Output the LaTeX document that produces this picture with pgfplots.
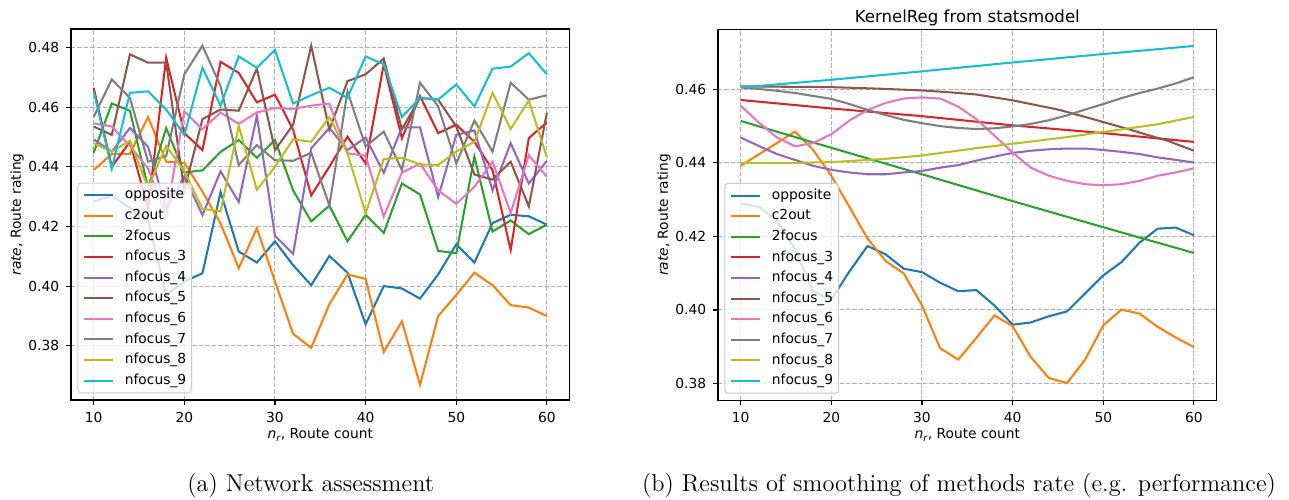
\documentclass[border=0pt]{standalone}
\usepackage{fontspec}
\setsansfont{DejaVu Sans}
\usepackage{pgfplots}
\usepackage{pgfplotstable}
\pgfplotsset{compat=1.18}

\definecolor{c0}{HTML}{1F77B4}
\definecolor{c1}{HTML}{FF7F0E}
\definecolor{c2}{HTML}{2CA02C}
\definecolor{c3}{HTML}{D62728}
\definecolor{c4}{HTML}{9467BD}
\definecolor{c5}{HTML}{8C564B}
\definecolor{c6}{HTML}{E377C2}
\definecolor{c7}{HTML}{7F7F7F}
\definecolor{c8}{HTML}{BCBD22}
\definecolor{c9}{HTML}{17BECF}

\newcommand\tickfont{\sffamily\fontsize{6.9}{8}\selectfont}
\newcommand\titlefont{\sffamily\fontsize{8.3}{10}\selectfont}
\newcommand\capfont{\rmfamily\fontsize{12.2}{14}\selectfont}

% raw rates, one row per route count
\pgfplotstableread{
x  opp    c2     f2     f3     f4     f5     f6     f7     f8     f9
10 0.4284 0.4389 0.4447 0.4665 0.4492 0.4535 0.4546 0.4567 0.4479 0.4653
12 0.4303 0.4443 0.4612 0.4400 0.4451 0.4507 0.4535 0.4693 0.4451 0.4394
14 0.4262 0.4443 0.4588 0.4484 0.4530 0.4777 0.4470 0.4631 0.4487 0.4648
16 0.4220 0.4567 0.4330 0.4260 0.4467 0.4749 0.4394 0.4417 0.4330 0.4653
18 0.3970 0.4417 0.4530 0.4766 0.4260 0.4749 0.4237 0.4436 0.4470 0.4592
20 0.4015 0.4413 0.4381 0.4513 0.4368 0.4320 0.4586 0.4710 0.4385 0.4507
22 0.4043 0.4317 0.4388 0.4456 0.4238 0.4560 0.4526 0.4806 0.4259 0.4732
24 0.4315 0.4210 0.4450 0.4752 0.4385 0.4592 0.4582 0.4670 0.4251 0.4605
26 0.4116 0.4060 0.4490 0.4715 0.4282 0.4588 0.4544 0.4406 0.4537 0.4770
28 0.4079 0.4194 0.4430 0.4616 0.4571 0.4729 0.4582 0.4473 0.4323 0.4732
30 0.4150 0.4016 0.4490 0.4642 0.4169 0.4456 0.4597 0.4422 0.4400 0.4792
32 0.4070 0.3840 0.4321 0.4524 0.4108 0.4541 0.4594 0.4420 0.4492 0.4612
34 0.4003 0.3793 0.4217 0.4304 0.4462 0.4806 0.4605 0.4447 0.4484 0.4640
36 0.4101 0.3939 0.4270 0.4400 0.4530 0.4524 0.4612 0.4270 0.4567 0.4665
38 0.4045 0.4039 0.4150 0.4501 0.4456 0.4687 0.4445 0.4653 0.4445 0.4631
40 0.3872 0.4024 0.4239 0.4411 0.4498 0.4710 0.4437 0.4468 0.4244 0.4770
42 0.4000 0.3779 0.4178 0.4744 0.4380 0.4763 0.4233 0.4518 0.4426 0.4744
44 0.3992 0.3882 0.4344 0.4496 0.4532 0.4526 0.4380 0.4389 0.4430 0.4567
46 0.3958 0.3669 0.4307 0.4637 0.4532 0.4631 0.4411 0.4682 0.4408 0.4631
48 0.4039 0.3899 0.4118 0.4513 0.4298 0.4625 0.4321 0.4603 0.4406 0.4625
50 0.4140 0.3970 0.4110 0.4541 0.4507 0.4535 0.4276 0.4411 0.4451 0.4676
52 0.4079 0.4045 0.4434 0.4484 0.4522 0.4374 0.4333 0.4555 0.4484 0.4603
54 0.4211 0.4003 0.4183 0.4389 0.4321 0.4357 0.4417 0.4451 0.4648 0.4729
56 0.4239 0.3936 0.4220 0.4121 0.4479 0.4417 0.4245 0.4682 0.4527 0.4736
58 0.4234 0.3928 0.4174 0.4496 0.4344 0.4267 0.4439 0.4625 0.4622 0.4781
60 0.4206 0.3899 0.4206 0.4549 0.4420 0.4582 0.4366 0.4640 0.4431 0.4710
}\rawdata

% smoothed (KernelReg) curves that need every point
\pgfplotstableread{
x  opp    c2     f4     f6     f7
10 0.4290 0.4392 0.4469 0.4555 0.4605
12 0.4281 0.4423 0.4446 0.4510 0.4601
14 0.4242 0.4454 0.4424 0.4469 0.4596
16 0.4165 0.4485 0.4408 0.4445 0.4590
18 0.4051 0.4435 0.4392 0.4454 0.4582
20 0.4028 0.4365 0.4381 0.4478 0.4574
22 0.4105 0.4280 0.4374 0.4515 0.4560
24 0.4174 0.4194 0.4369 0.4544 0.4544
26 0.4151 0.4133 0.4369 0.4563 0.4530
28 0.4112 0.4099 0.4374 0.4575 0.4517
30 0.4103 0.4012 0.4378 0.4578 0.4508
32 0.4074 0.3896 0.4387 0.4575 0.4500
34 0.4051 0.3865 0.4394 0.4553 0.4495
36 0.4054 0.3924 0.4406 0.4519 0.4492
38 0.4012 0.3985 0.4417 0.4474 0.4494
40 0.3960 0.3956 0.4427 0.4428 0.4499
42 0.3966 0.3872 0.4433 0.4387 0.4506
44 0.3983 0.3815 0.4437 0.4365 0.4516
46 0.3996 0.3801 0.4439 0.4351 0.4529
48 0.4045 0.3865 0.4439 0.4342 0.4545
50 0.4094 0.3958 0.4435 0.4339 0.4560
52 0.4130 0.4001 0.4430 0.4342 0.4576
54 0.4183 0.3990 0.4424 0.4351 0.4590
56 0.4221 0.3954 0.4415 0.4365 0.4602
58 0.4224 0.3925 0.4408 0.4374 0.4616
60 0.4203 0.3899 0.4401 0.4385 0.4633
}\smoothdata

\pgfplotsset{
  mpl/.style={
    scale only axis, width=249.3pt, height=185.5pt,
    xmin=7.5, xmax=62.5,
    xtick={10,20,...,60},
    grid=major,
    grid style={color=black!31, line width=0.5pt, dash pattern=on 2.2pt off 1pt},
    axis line style={line width=0.55pt},
    tick style={black, line width=0.55pt},
    major tick length=2.4pt, tick align=outside,
    xtick pos=lower, ytick pos=left,
    tick label style={font=\tickfont},
    label style={font=\tickfont},
    /pgf/number format/assume math mode=true,
    yticklabel style={/pgf/number format/.cd, fixed, fixed zerofill, precision=2},
    xlabel={\textit{n}\raisebox{-0.35ex}{\fontsize{4.8}{5}\selectfont\textit{r}}, Route count},
    ylabel={\textit{rate}, Route rating},
    xlabel style={at={(axis description cs:0.5,-0.094)}, anchor=center, inner sep=0pt},
    ylabel style={at={(axis description cs:-0.108,0.5)}, anchor=center, inner sep=0pt},
    every axis plot/.append style={line width=1.03pt, mark=none},
    legend cell align=left,
    legend style={at={(0.0127,0.018)}, anchor=south west,
      fill=white, fill opacity=0.8, text opacity=1, draw opacity=1,
      draw=black!20, rounded corners=1.5pt, line width=0.5pt,
      font=\tickfont, inner xsep=2.7pt, inner ysep=2.8pt, row sep=3.7pt,
      nodes={inner sep=0pt, text height=5.1pt, text depth=1.5pt},
      /tikz/every odd column/.append style={column sep=5.3pt}},
    legend image code/.code={\draw[#1] (0pt,0pt) -- (14.5pt,0pt);},
  }
}

\begin{document}
\begin{tikzpicture}
\path[use as bounding box] (0,0) rectangle (644.5pt,249.5pt);

\begin{axis}[mpl, at={(35.5pt,49.5pt)}, anchor=south west,
    ymin=0.3618, ymax=0.4862, ytick={0.38,0.40,...,0.48}]
\addplot[c0] table[x=x, y=opp] {\rawdata};
\addplot[c1] table[x=x, y=c2] {\rawdata};
\addplot[c2] table[x=x, y=f2] {\rawdata};
\addplot[c3] table[x=x, y=f3] {\rawdata};
\addplot[c4] table[x=x, y=f4] {\rawdata};
\addplot[c5] table[x=x, y=f5] {\rawdata};
\addplot[c6] table[x=x, y=f6] {\rawdata};
\addplot[c7] table[x=x, y=f7] {\rawdata};
\addplot[c8] table[x=x, y=f8] {\rawdata};
\addplot[c9] table[x=x, y=f9] {\rawdata};
\legend{opposite, c2out, 2focus, nfocus\_3, nfocus\_4, nfocus\_5, nfocus\_6, nfocus\_7, nfocus\_8, nfocus\_9}
\end{axis}

\begin{axis}[mpl, at={(359pt,49.3pt)}, anchor=south west,
    ymin=0.3754, ymax=0.4763, ytick={0.38,0.40,...,0.46},
    title={KernelReg from statsmodel},
    title style={font=\titlefont, at={(0.5,1)}, anchor=south, inner sep=0pt, yshift=-4.3pt}]
\addplot[c0] table[x=x, y=opp] {\smoothdata};
\addplot[c1] table[x=x, y=c2] {\smoothdata};
\addplot[c2] coordinates {(10,0.4514) (20,0.4441) (30,0.4369) (40,0.4296) (50,0.4225) (60,0.4155)};
\addplot[c3] coordinates {(10,0.4571) (20,0.4548) (30,0.4527) (40,0.4502) (50,0.4481) (60,0.4457)};
\addplot[c4] table[x=x, y=f4] {\smoothdata};
\addplot[c5] coordinates {(10,0.4608) (20,0.4606) (25,0.4602) (30,0.4597) (33,0.4592) (36,0.4586) (40,0.4570) (43,0.4555) (45,0.4545) (48,0.4525) (50,0.4511) (53,0.4490) (55,0.4475) (57,0.4461) (60,0.4433)};
\addplot[c6] table[x=x, y=f6] {\smoothdata};
\addplot[c7] table[x=x, y=f7] {\smoothdata};
\addplot[c8] coordinates {(10,0.4400) (16,0.4400) (20,0.4402) (26,0.4411) (30,0.4420) (36,0.4440) (40,0.4452) (46,0.4470) (50,0.4484) (56,0.4505) (60,0.4525)};
\addplot[c9] coordinates {(10,0.4605) (20,0.4626) (30,0.4649) (40,0.4673) (50,0.4696) (60,0.4718)};
\legend{opposite, c2out, 2focus, nfocus\_3, nfocus\_4, nfocus\_5, nfocus\_6, nfocus\_7, nfocus\_8, nfocus\_9}
\end{axis}

\node[font=\capfont] at (155.4pt,7pt) {(a) Network assessment};
\node[font=\capfont] at (479.5pt,7pt) {(b) Results of smoothing of methods rate (e.g. performance)};
\end{tikzpicture}
\end{document}
